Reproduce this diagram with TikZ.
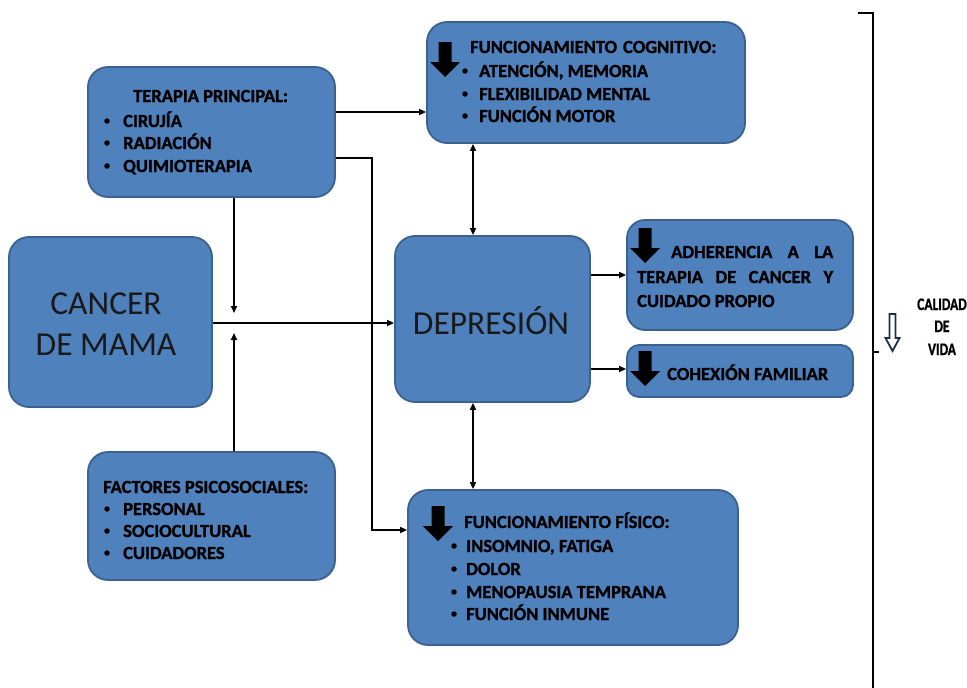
\documentclass[tikz,border=0pt]{standalone}
\usepackage{fontspec}
\setmainfont{Carlito}[BoldFeatures={FakeBold=1.3}]
\usetikzlibrary{arrows.meta}
\definecolor{boxfill}{HTML}{4F81BD}
\definecolor{boxline}{HTML}{3A6190}
\definecolor{navy}{HTML}{1F2F4A}

\begin{document}
\begin{tikzpicture}[x=1pt,y=-1pt,
  box/.style={draw=boxline, line width=1.8pt, fill=boxfill, rounded corners=#1, inner sep=0pt},
  box/.default=20pt,
  lbl/.style={anchor=base west, inner sep=0pt, font=\bfseries\fontsize{18.5}{18.5}\selectfont, text=black},
  bul/.style={circle, fill=black, minimum size=5.5pt, inner sep=0pt},
  big/.style={anchor=base, inner sep=0pt, font=\fontsize{33.5}{33.5}\selectfont, text=black!90},
  side/.style={anchor=base, inner sep=0pt, font=\bfseries\fontsize{13.5}{13.5}\selectfont, text=black},
  link/.style={line width=1.6pt, -{Triangle[length=7pt,width=6pt]}},
  dlink/.style={line width=1.6pt, {Triangle[length=7pt,width=6pt]}-{Triangle[length=7pt,width=6pt]}},
  blk/.pic={\fill[black] (-6.5,0) -- (6.5,0) -- (6.5,20) -- (15,20) -- (0,35) -- (-15,20) -- (-6.5,20) -- cycle;}
]
\useasboundingbox (0,0) rectangle (967,688);

% boxes
\node[box, minimum width=318pt, minimum height=121pt] (cog) at (586,82.5) {};
\node[box, minimum width=247pt, minimum height=130pt] (ter) at (211.5,132) {};
\node[box, minimum width=203pt, minimum height=170pt] (can) at (110.5,322) {};
\node[box, minimum width=195pt, minimum height=166pt] (dep) at (492.5,319) {};
\node[box=18pt, minimum width=226pt, minimum height=110pt] (adh) at (740,275) {};
\node[box=12pt, minimum width=226pt, minimum height=52pt] (coh) at (740,371) {};
\node[box, minimum width=247pt, minimum height=128pt] (fac) at (211.5,516) {};
\node[box, minimum width=330pt, minimum height=155pt] (fis) at (573,567.5) {};

% block arrows inside boxes
\pic at (445,42) {blk};
\pic at (645,228) {blk};
\pic at (645,351) {blk};
\pic at (438,506) {blk};

% box texts
\node[lbl] (cogT) at (470,53) {FUNCIONAMIENTO\hspace{6pt}COGNITIVO:};
\node[bul] (cogB1) at (465,71) {};
\node[lbl] (cog1) at (479,77) {ATENCIÓN, MEMORIA};
\node[bul] (cogB2) at (465,94) {};
\node[lbl] (cog2) at (479,100) {FLEXIBILIDAD MENTAL};
\node[bul] (cogB3) at (465,116) {};
\node[lbl] (cog3) at (479,122) {FUNCIÓN MOTOR};

\node[lbl] (terT) at (133,102) {TERAPIA PRINCIPAL:};
\node[bul] (terB1) at (107,121) {};
\node[lbl] (ter1) at (123,127) {CIRUJÍA};
\node[bul] (terB2) at (107,143) {};
\node[lbl] (ter2) at (123,149) {RADIACIÓN};
\node[bul] (terB3) at (107,166) {};
\node[lbl] (ter3) at (123,172) {QUIMIOTERAPIA};

\node[big] (can1) at (106,314) {CANCER};
\node[big] (can2) at (106,355) {DE MAMA};
\node[big] (dep1) at (491,334) {DEPRESIÓN};

% justified lines of the adherence box
\node[lbl] (adh1) at (671,258) {\makebox[162pt][s]{ADHERENCIA A LA}};
\node[lbl] (adh2) at (637,283) {\makebox[196pt][s]{TERAPIA DE CANCER Y}};
\node[lbl] (adh3) at (637,307) {CUIDADO PROPIO};
\node[lbl] (coh1) at (667,380) {COHEXIÓN FAMILIAR};

\node[lbl] (facT) at (103,493) {FACTORES PSICOSOCIALES:};
\node[bul] (facB1) at (107,509) {};
\node[lbl] (fac1) at (123,515) {PERSONAL};
\node[bul] (facB2) at (107,531) {};
\node[lbl] (fac2) at (123,537) {SOCIOCULTURAL};
\node[bul] (facB3) at (107,553) {};
\node[lbl] (fac3) at (123,559) {CUIDADORES};

\node[lbl] (fisT) at (464,528) {FUNCIONAMIENTO FÍSICO:};
\node[bul] (fisB1) at (454,546) {};
\node[lbl] (fis1) at (466,552) {INSOMNIO, FATIGA};
\node[bul] (fisB2) at (454,569) {};
\node[lbl] (fis2) at (466,575) {DOLOR};
\node[bul] (fisB3) at (454,592) {};
\node[lbl] (fis3) at (466,598) {MENOPAUSIA TEMPRANA};
\node[bul] (fisB4) at (454,614) {};
\node[lbl] (fis4) at (466,620) {FUNCIÓN INMUNE};

% helper coordinates for the connector routes
\coordinate (yA) at (0,112);
\coordinate (bend) at (372,158);
\coordinate (yF) at (0,530);
\coordinate (jTop) at (234,313);
\coordinate (jBot) at (234,333);
\coordinate (yM) at (0,323);
\coordinate (xD) at (473,0);
\coordinate (yE) at (0,275);
\coordinate (yH) at (0,369);

% connectors
\draw[link] (ter.east |- yA) -- (cog.west |- yA);
\draw[link] (ter.east |- bend) -- (bend) |- (fis.west |- yF);
\draw[link] (ter.south -| jTop) -- (jTop);
\draw[link] (fac.north -| jBot) -- (jBot);
\draw[link] (can.east |- yM) -- (dep.west |- yM);
\draw[dlink] (cog.south -| xD) -- (dep.north -| xD);
\draw[dlink] (dep.south -| xD) -- (fis.north -| xD);
\draw[link] (dep.east |- yE) -- (adh.west |- yE);
\draw[link] (dep.east |- yH) -- (coh.west |- yH);

% right-hand bracket
\coordinate (brTop) at (858,13);
\coordinate (brMid) at (873,352);
\coordinate (brTip) at (879,352);
\coordinate (brEnd) at (873,688);
\draw[line width=2.2pt] (brTop) -- (brTop -| brMid) -- (brEnd);
\draw[line width=2.2pt] (brMid) -- (brTip);

% quality of life label
\node[side] (cal1) at (942,310) {\scalebox{1}[1.3]{CALIDAD}};
\node[side] (cal2) at (942,332) {\scalebox{1}[1.3]{DE}};
\node[side] (cal3) at (942,355) {\scalebox{1}[1.3]{VIDA}};
\draw[navy, fill=white, line width=1.8pt, line join=miter]
  (889.5,314) -- (895.5,314) -- (895.5,338) -- (899.5,338) -- (892.5,351) -- (885.5,338) -- (889.5,338) -- cycle;
\end{tikzpicture}
\end{document}
